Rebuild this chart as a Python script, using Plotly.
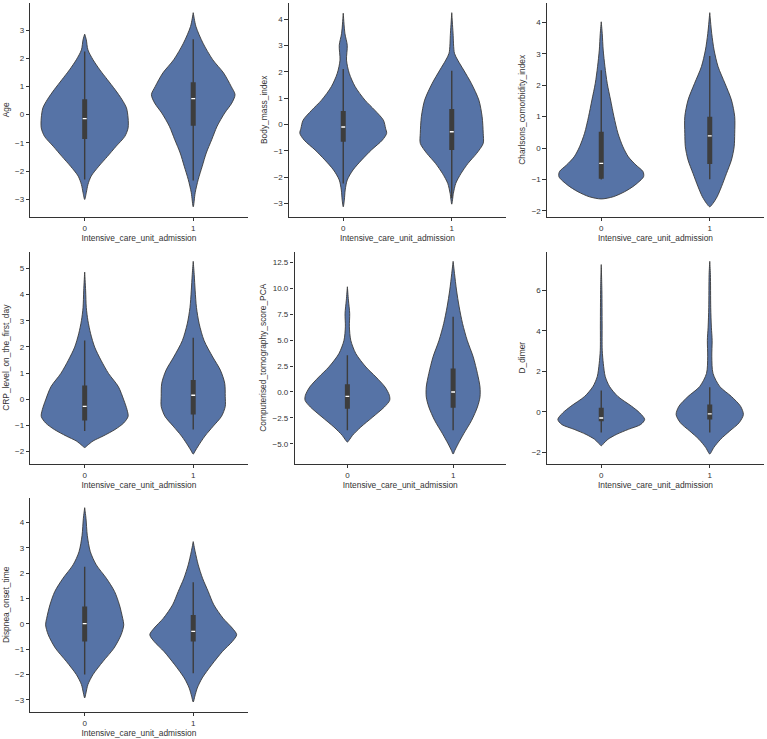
import plotly.graph_objects as go

W, H = 767, 739

categories = ["0", "1"]
variables = ["Age", "Body_mass_index", "Charlsons_comorbidity_index",
             "CRP_level_on_the_first_day", "Computerised_tomography_score_PCA",
             "D_dimer", "Dispnea_onset_time"]
x_title = "Intensive_care_unit_admission"

# ---- violin density profiles (value levels, half-widths) ----
age_levels_0 = [-3.01, -2.77, -2.48, -2.18, -1.83, -1.48, -1.12, -0.77, -0.47, -0.12, 0.24, 0.53, 0.89, 1.24, 1.59, 1.95, 2.30, 2.66, 2.86]
age_widths_0 = [0, 0.015, 0.03, 0.06, 0.13, 0.21, 0.29, 0.37, 0.40, 0.40, 0.385, 0.345, 0.28, 0.21, 0.14, 0.077, 0.03, 0.015, 0]
age_levels_1 = [-3.27, -2.77, -2.30, -1.83, -1.36, -0.89, -0.41, 0.06, 0.41, 0.71, 1.0, 1.48, 1.95, 2.54, 3.13, 3.62]
age_widths_1 = [0, 0.018, 0.046, 0.083, 0.12, 0.17, 0.22, 0.29, 0.355, 0.385, 0.35, 0.28, 0.18, 0.09, 0.025, 0]

bmi_levels_0 = [-3.13, -2.87, -2.49, -2.11, -1.73, -1.35, -0.97, -0.6, -0.34, -0.15, 0.16, 0.54, 0.92, 1.43, 1.94, 2.44, 3.0, 3.46, 4.22]
bmi_widths_0 = [0, 0.01, 0.018, 0.037, 0.09, 0.17, 0.26, 0.36, 0.40, 0.39, 0.37, 0.29, 0.2, 0.11, 0.055, 0.03, 0.037, 0.015, 0]
bmi_levels_1 = [-3.03, -2.62, -2.24, -1.86, -1.48, -1.1, -0.72, -0.34, 0.29, 0.92, 1.56, 2.06, 2.44, 2.7, 3.46, 4.24]
bmi_widths_1 = [0, 0.015, 0.037, 0.086, 0.15, 0.23, 0.29, 0.29, 0.28, 0.25, 0.18, 0.11, 0.055, 0.025, 0.012, 0]

cci_levels_0 = [-1.62, -1.55, -1.39, -1.18, -0.91, -0.75, -0.54, -0.28, 0.04, 0.47, 1.0, 1.53, 2.06, 2.59, 3.12, 3.65, 4.02]
cci_widths_0 = [0, 0.11, 0.215, 0.31, 0.39, 0.385, 0.32, 0.25, 0.2, 0.154, 0.117, 0.086, 0.055, 0.034, 0.018, 0.009, 0]
cci_levels_1 = [-1.87, -1.76, -1.55, -1.23, -0.81, -0.38, 0.04, 0.47, 1.0, 1.53, 2.06, 2.59, 3.12, 3.65, 4.31]
cci_widths_1 = [0, 0.03, 0.068, 0.108, 0.154, 0.2, 0.225, 0.23, 0.23, 0.2, 0.14, 0.077, 0.04, 0.018, 0]

crp_levels_0 = [-1.85, -1.77, -1.6, -1.41, -1.16, -0.91, -0.66, -0.4, -0.03, 0.48, 0.98, 1.49, 1.99, 2.5, 3.0, 3.5, 4.14, 4.86]
crp_widths_0 = [0, 0.025, 0.077, 0.17, 0.28, 0.36, 0.40, 0.39, 0.36, 0.31, 0.22, 0.15, 0.092, 0.055, 0.03, 0.015, 0.009, 0]
crp_levels_1 = [-2.1, -1.98, -1.79, -1.41, -1.03, -0.66, -0.28, 0.1, 0.61, 1.11, 1.61, 2.24, 2.88, 3.5, 4.14, 4.77, 5.27]
crp_widths_1 = [0, 0.018, 0.046, 0.108, 0.185, 0.26, 0.295, 0.295, 0.29, 0.25, 0.18, 0.1, 0.055, 0.03, 0.018, 0.009, 0]

ct_levels_0 = [-4.84, -4.62, -4.2, -3.39, -2.42, -1.45, -0.81, -0.32, 0.48, 1.45, 2.42, 3.71, 5.0, 6.3, 7.59, 8.88, 10.17]
ct_widths_0 = [0, 0.019, 0.048, 0.127, 0.24, 0.35, 0.40, 0.397, 0.356, 0.27, 0.175, 0.08, 0.032, 0.019, 0.022, 0.01, 0]
ct_levels_1 = [-6.0, -5.65, -5.0, -4.04, -2.74, -1.45, -0.48, 0.48, 1.78, 3.39, 5.0, 6.62, 8.23, 9.85, 11.46, 12.63]
ct_widths_1 = [0, 0.016, 0.048, 0.1, 0.175, 0.23, 0.254, 0.254, 0.23, 0.19, 0.133, 0.089, 0.057, 0.032, 0.013, 0]

dd_levels_0 = [-1.67, -1.54, -1.35, -1.11, -0.86, -0.62, -0.37, -0.05, 0.28, 0.76, 1.25, 1.74, 2.39, 3.04, 4.34, 5.97, 7.27]
dd_widths_0 = [0, 0.025, 0.062, 0.14, 0.25, 0.364, 0.4, 0.355, 0.28, 0.154, 0.077, 0.037, 0.019, 0.009, 0.008, 0.006, 0]
dd_levels_1 = [-2.08, -2.0, -1.76, -1.35, -0.94, -0.54, -0.13, 0.28, 0.76, 1.25, 1.9, 2.72, 3.53, 4.18, 5.15, 6.78, 7.43]
dd_widths_1 = [0, 0.012, 0.037, 0.1, 0.185, 0.27, 0.31, 0.284, 0.2, 0.093, 0.03, 0.019, 0.022, 0.015, 0.009, 0.006, 0]

dot_levels_0 = [-2.93, -2.73, -2.4, -2.01, -1.48, -0.96, -0.43, -0.04, 0.22, 0.75, 1.28, 1.8, 2.33, 2.85, 3.5, 4.17, 4.59]
dot_widths_0 = [0, 0.012, 0.03, 0.076, 0.17, 0.27, 0.336, 0.36, 0.35, 0.32, 0.275, 0.2, 0.107, 0.052, 0.024, 0.012, 0]
dot_levels_1 = [-3.09, -2.86, -2.54, -2.14, -1.62, -1.09, -0.7, -0.43, -0.17, 0.22, 0.75, 1.28, 1.8, 2.33, 2.85, 3.25]
dot_widths_1 = [0, 0.015, 0.037, 0.083, 0.17, 0.27, 0.36, 0.40, 0.36, 0.275, 0.19, 0.138, 0.086, 0.046, 0.018, 0]

# ---- inner box stats: [whisker_low, q1, median, q3, whisker_high] ----
age_box_0 = [-2.3, -0.86, -0.14, 0.55, 2.24]
age_box_1 = [-2.34, -0.39, 0.57, 1.15, 2.68]
bmi_box_0 = [-2.25, -0.66, -0.1, 0.51, 2.1]
bmi_box_1 = [-2.8, -0.97, -0.28, 0.58, 2.04]
cci_box_0 = [-1.0, -0.98, -0.49, 0.52, 2.48]
cci_box_1 = [-0.99, -0.51, 0.39, 1.0, 2.93]
crp_box_0 = [-1.22, -0.82, -0.28, 0.52, 2.24]
crp_box_1 = [-1.16, -0.59, 0.15, 0.73, 2.35]
ct_box_0 = [-3.7, -1.61, -0.42, 0.74, 3.55]
ct_box_1 = [-3.71, -1.52, 0.0, 2.26, 7.27]
dd_box_0 = [-1.02, -0.46, -0.3, 0.2, 1.06]
dd_box_1 = [-1.02, -0.37, -0.1, 0.36, 1.22]
dot_box_0 = [-2.0, -0.7, 0.01, 0.68, 2.26]
dot_box_1 = [-1.95, -0.7, -0.3, 0.35, 1.64]

y_tickvals = [
    [-3, -2, -1, 0, 1, 2, 3],
    [-3, -2, -1, 0, 1, 2, 3, 4],
    [-2, -1, 0, 1, 2, 3, 4],
    [-2, -1, 0, 1, 2, 3, 4, 5],
    [-5.0, -2.5, 0.0, 2.5, 5.0, 7.5, 10.0, 12.5],
    [-2, 0, 2, 4, 6],
    [-3, -2, -1, 0, 1, 2, 3, 4],
]
y_tickformats = ["d", "d", "d", "d", ".1f", "d", "d"]

profiles = [
    [(age_levels_0, age_widths_0), (age_levels_1, age_widths_1)],
    [(bmi_levels_0, bmi_widths_0), (bmi_levels_1, bmi_widths_1)],
    [(cci_levels_0, cci_widths_0), (cci_levels_1, cci_widths_1)],
    [(crp_levels_0, crp_widths_0), (crp_levels_1, crp_widths_1)],
    [(ct_levels_0, ct_widths_0), (ct_levels_1, ct_widths_1)],
    [(dd_levels_0, dd_widths_0), (dd_levels_1, dd_widths_1)],
    [(dot_levels_0, dot_widths_0), (dot_levels_1, dot_widths_1)],
]
boxes = [
    [age_box_0, age_box_1], [bmi_box_0, bmi_box_1], [cci_box_0, cci_box_1],
    [crp_box_0, crp_box_1], [ct_box_0, ct_box_1], [dd_box_0, dd_box_1],
    [dot_box_0, dot_box_1],
]

# ---- panel placement (pixels: left, right, top, bottom) ----
panel_px = [
    (30.4, 247.5, 3.0, 216.5),
    (289.0, 506.0, 3.0, 216.5),
    (547.0, 764.0, 3.0, 216.5),
    (30.4, 247.5, 251.7, 463.7),
    (294.5, 506.0, 251.7, 463.7),
    (547.0, 764.0, 251.7, 463.7),
    (30.4, 247.5, 498.0, 711.7),
]

FILL = "#5673a6"
EDGE = "#3a3a3a"
INNER = "#3d3d3d"
TXT = "#333333"
FONT = "Liberation Sans, Arial, sans-serif"

fig = go.Figure()
layout = dict(
    width=W, height=H, margin=dict(l=0, r=0, t=0, b=0),
    paper_bgcolor="white", plot_bgcolor="white", showlegend=False,
    font=dict(family=FONT, color=TXT, size=8),
)

for i, var in enumerate(variables):
    n = "" if i == 0 else str(i + 1)
    xa, ya = "x" + n, "y" + n
    l, r, t, b = panel_px[i]
    all_levels = profiles[i][0][0] + profiles[i][1][0]
    lo, hi = min(all_levels), max(all_levels)
    pad = 0.05 * (hi - lo)
    for c, (lv, wd) in enumerate(profiles[i]):
        xs = [c + w for w in wd] + [c - w for w in reversed(wd)]
        ys = list(lv) + list(reversed(lv))
        fig.add_trace(go.Scatter(
            x=xs, y=ys, mode="lines", fill="toself", fillcolor=FILL,
            line=dict(color=EDGE, width=0.9, shape="spline", smoothing=0.8),
            xaxis=xa, yaxis=ya, hoverinfo="skip"))
        wl, q1, med, q3, wh = boxes[i][c]
        fig.add_trace(go.Scatter(x=[c, c], y=[wl, wh], mode="lines",
                                 line=dict(color=INNER, width=1.4),
                                 xaxis=xa, yaxis=ya, hoverinfo="skip"))
        fig.add_trace(go.Scatter(x=[c, c], y=[q1, q3], mode="lines",
                                 line=dict(color=INNER, width=5),
                                 xaxis=xa, yaxis=ya, hoverinfo="skip"))
        fig.add_trace(go.Scatter(x=[c - 0.018, c + 0.018], y=[med, med], mode="lines",
                                 line=dict(color="white", width=1.3),
                                 xaxis=xa, yaxis=ya, hoverinfo="skip"))
    axis_common = dict(
        showline=True, linecolor="#333333", linewidth=1.2, mirror=False,
        ticks="outside", ticklen=3.5, tickwidth=1.1, tickcolor="#333333",
        showgrid=False, zeroline=False, tickfont=dict(size=8, color=TXT, family=FONT),
    )
    layout["xaxis" + n] = dict(
        axis_common, domain=[l / W, r / W], anchor=ya, range=[-0.5, 1.5],
        tickvals=[0, 1], ticktext=categories,
        title=dict(text=x_title, font=dict(size=8.4, color=TXT, family=FONT), standoff=2),
    )
    layout["yaxis" + n] = dict(
        axis_common, domain=[1 - b / H, 1 - t / H], anchor=xa,
        range=[lo - pad, hi + pad], tickvals=y_tickvals[i], tickformat=y_tickformats[i],
        title=dict(text=var, font=dict(size=8.4, color=TXT, family=FONT), standoff=4),
    )

fig.update_layout(**layout)
fig.write_html("out.html")
